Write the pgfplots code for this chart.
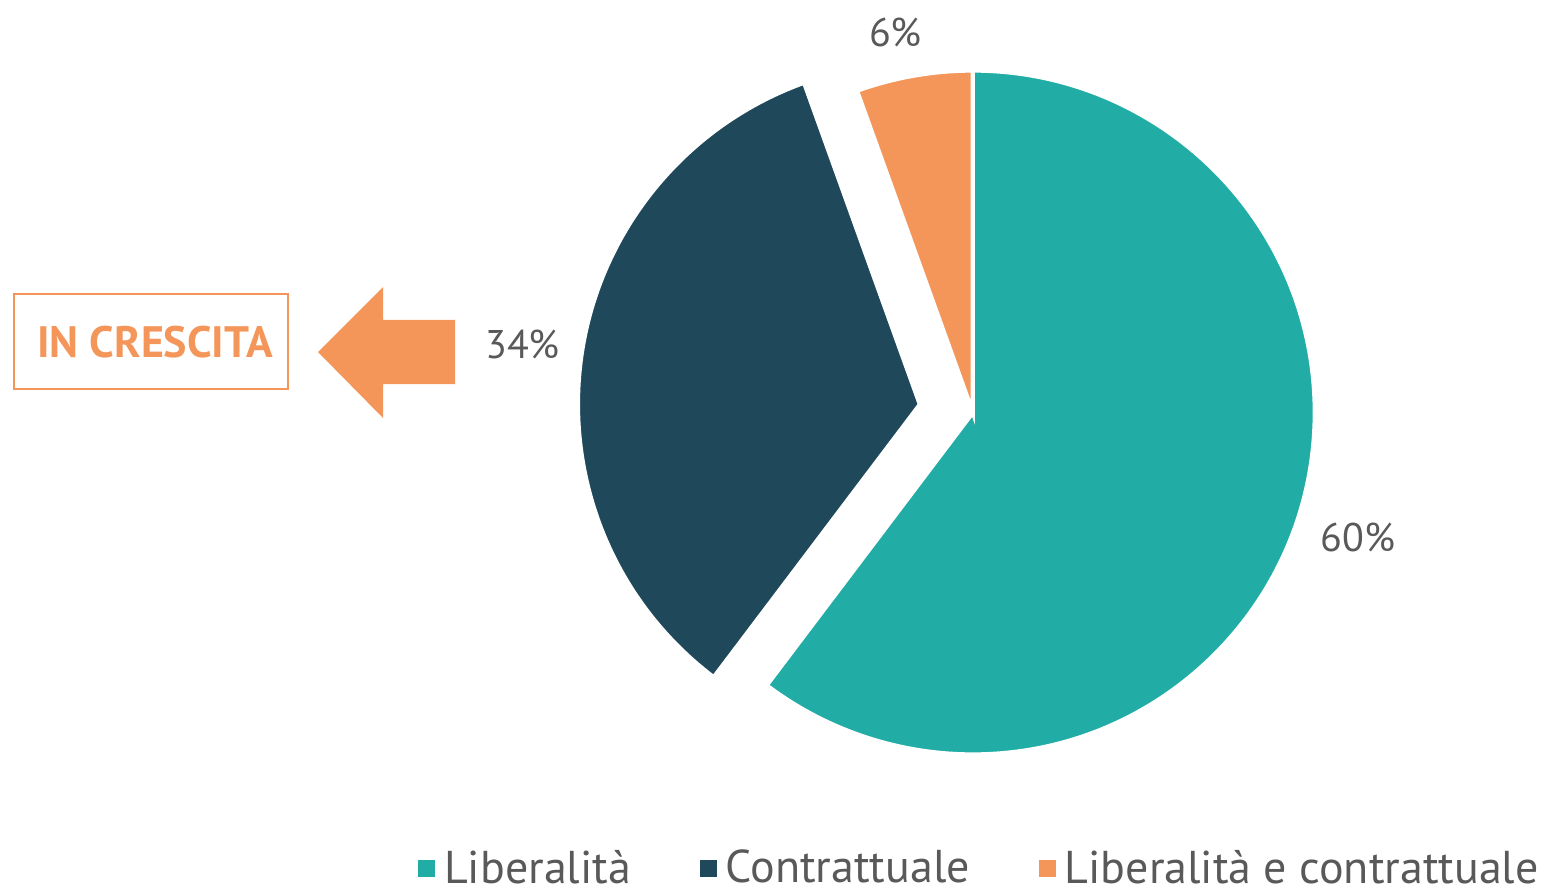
\documentclass[border=0pt]{standalone}
\usepackage{fontspec}
\setmainfont{PT Sans}
\usepackage{pgfplots}
\usepackage{pgfplotstable}
\usetikzlibrary{calc}
\pgfplotsset{compat=1.18}
\definecolor{cteal}{HTML}{21ADA6}
\definecolor{cdark}{HTML}{1F495A}
\definecolor{corange}{HTML}{F4965A}
\definecolor{ctext}{HTML}{595959}
\pgfplotstableread{
name value explode
Liberalita 60.3 0
Contrattuale 34.2 26.75
Mista 5.5 0
}\piedata
\begin{document}
\begin{tikzpicture}
\pgfplotstablegetelem{0}{value}\of\piedata \let\va\pgfplotsretval
\pgfplotstablegetelem{1}{value}\of\piedata \let\vb\pgfplotsretval
\pgfplotstablegetelem{2}{value}\of\piedata \let\vc\pgfplotsretval
\pgfplotstablegetelem{1}{explode}\of\piedata \let\eb\pgfplotsretval
\pgfmathsetmacro\aA{90}
\pgfmathsetmacro\aB{\aA-3.6*\va}
\pgfmathsetmacro\aC{\aB-3.6*\vb}
\pgfmathsetmacro\aD{\aC-3.6*\vc}
\pgfmathsetmacro\mA{(\aA+\aB)/2}
\pgfmathsetmacro\mB{(\aB+\aC)/2}
\pgfmathsetmacro\mC{(\aC+\aD)/2}
\pgfmathsetmacro\lC{\mC+1.6}
\pgfmathsetmacro\lA{\mA+0.5}
\pgfmathtruncatemacro\Va{round(\va)}
\pgfmathtruncatemacro\Vb{round(\vb)}
\pgfmathtruncatemacro\Vc{round(\vc)}
\begin{axis}[
  at={(0,0)}, anchor=south west,
  scale only axis, width=773.5pt, height=445pt,
  xmin=0, xmax=1547, ymin=0, ymax=890,
  hide axis, clip=false,
  legend columns=3,
  legend style={at={(axis cs:980.5,22)}, anchor=center, draw=none, fill=none,
    inner sep=0pt, font=\fontsize{23}{27}\selectfont\color{ctext},
    /tikz/every even column/.append style={column sep=32.5pt}},
  legend cell align=left,
  legend image code/.code={\fill[#1] (0pt,-4pt) rectangle (8pt,4pt); \path (10.5pt,0pt);},
]
\path (axis cs:0,0) rectangle (axis cs:1547,890);
% slices
\fill[cteal, draw=white, line width=2.15pt]
  (axis cs:972.8,477.5) -- ++(\aA:171pt) arc[start angle=\aA, end angle=\aB, radius=171pt] -- cycle;
\fill[cdark, draw=white, line width=2.15pt, shift={(\mB:\eb pt)}]
  (axis cs:972.8,477.5) -- ++(\aB:171pt) arc[start angle=\aB, end angle=\aC, radius=171pt] -- cycle;
\fill[corange, draw=white, line width=2.15pt]
  (axis cs:972.8,477.5) -- ++(\aC:171pt) arc[start angle=\aC, end angle=\aD, radius=171pt] -- cycle;
% labels
\node[font=\fontsize{20}{24}\selectfont, text=ctext] at ($(axis cs:972.8,477.5)+(\lA:202.5pt)$) {\Va\%};
\node[font=\fontsize{20}{24}\selectfont, text=ctext] at ($(axis cs:972.8,477.5)+(\mB:\eb pt)+(\mB:201pt)$) {\Vb\%};
\node[font=\fontsize{20}{24}\selectfont, text=ctext] at ($(axis cs:972.8,477.5)+(\lC:194pt)$) {\Vc\%};
% arrow
\addplot[fill=corange, draw=none, forget plot] coordinates {(318,538) (383,603) (383,570) (455,570) (455,506) (383,506) (383,472)} -- cycle;
% box
\draw[corange, line width=0.7pt] (axis cs:14,501) rectangle (axis cs:288,596);
\node[font=\fontsize{22}{26}\selectfont\bfseries, text=corange] at (axis cs:155,548) {IN CRESCITA};
\addlegendimage{cteal}
\addlegendentry{Liberalità}
\addlegendimage{cdark}
\addlegendentry{Contrattuale}
\addlegendimage{corange}
\addlegendentry{Liberalità e contrattuale}
\end{axis}
\end{tikzpicture}
\end{document}
